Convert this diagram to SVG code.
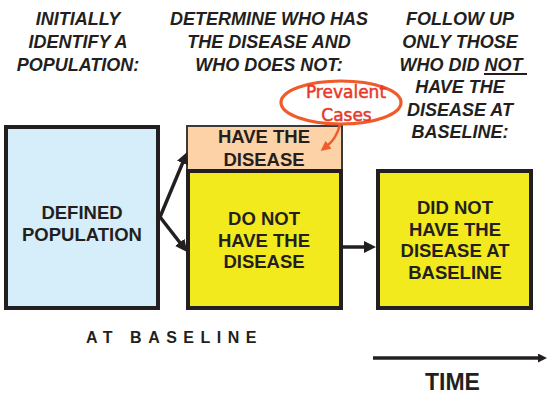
<svg xmlns="http://www.w3.org/2000/svg" width="547" height="394" viewBox="0 0 547 394">
  <defs>
    <style>
      .hdr { font-family: "Liberation Sans", Arial, sans-serif; font-size: 18px; font-weight: bold; font-style: italic; fill: #231F20; text-anchor: middle; }
      .lbl { font-family: "Liberation Sans", Arial, sans-serif; font-size: 18.5px; font-weight: bold; fill: #231F20; text-anchor: middle; }
      .box { stroke: #231F20; stroke-width: 4; }
      .conn { stroke: #231F20; stroke-width: 3.5; fill: none; }
      .note { font-family: "DejaVu Sans", "Comic Sans MS", sans-serif; font-size: 17px; fill: #E8392A; stroke: #E8392A; stroke-width: 0.5; text-anchor: middle; }
    </style>
    <marker id="ah" markerUnits="userSpaceOnUse" markerWidth="12" markerHeight="12" refX="3" refY="6" orient="auto">
      <path d="M0,0 L12,6 L0,12 z" fill="#231F20"/>
    </marker>
    <marker id="ahs" markerUnits="userSpaceOnUse" markerWidth="9" markerHeight="9" refX="2" refY="4.5" orient="auto">
      <path d="M0,0 L9,4.5 L0,9 z" fill="#231F20"/>
    </marker>
    <marker id="aho" markerUnits="userSpaceOnUse" markerWidth="10" markerHeight="10" refX="2" refY="5" orient="auto">
      <path d="M0,0 L10,5 L0,10 z" fill="#F15A29"/>
    </marker>
  </defs>

  <g id="headers">
    <text class="hdr" x="78" y="25">INITIALLY</text>
    <text class="hdr" x="78" y="48">IDENTIFY A</text>
    <text class="hdr" x="78" y="70.5">POPULATION:</text>
    <text class="hdr" x="269" y="25">DETERMINE WHO HAS</text>
    <text class="hdr" x="269" y="48">THE DISEASE AND</text>
    <text class="hdr" x="269" y="70.5">WHO DOES NOT:</text>
    <text class="hdr" x="460" y="25">FOLLOW UP</text>
    <text class="hdr" x="460" y="48">ONLY THOSE</text>
    <text class="hdr" x="461" y="70.5">WHO DID NOT</text>
    <line x1="484" y1="74" x2="527" y2="74" stroke="#231F20" stroke-width="1.8"/>
    <text class="hdr" x="460" y="93">HAVE THE</text>
    <text class="hdr" x="460" y="115.5">DISEASE AT</text>
    <text class="hdr" x="460" y="138">BASELINE:</text>
  </g>

  <g id="defined-population">
    <rect class="box" x="6" y="127" width="152" height="181" fill="#D6EEF9"/>
    <text class="lbl" x="82" y="219">DEFINED</text>
    <text class="lbl" x="82" y="241">POPULATION</text>
  </g>

  <g id="have-disease">
    <rect x="187" y="126" width="155" height="44" fill="#FDD2A7" stroke="#3A3A3A" stroke-width="2"/>
    <text class="lbl" x="264" y="143">HAVE THE</text>
    <text class="lbl" x="264" y="166">DISEASE</text>
  </g>

  <g id="do-not-have">
    <rect class="box" x="188" y="171" width="153" height="137" fill="#F3EA1E"/>
    <text class="lbl" x="264" y="225">DO NOT</text>
    <text class="lbl" x="264" y="246.5">HAVE THE</text>
    <text class="lbl" x="264" y="268">DISEASE</text>
  </g>

  <g id="did-not-have">
    <rect class="box" x="378" y="171" width="153" height="137" fill="#F3EA1E"/>
    <text class="lbl" x="455" y="214">DID NOT</text>
    <text class="lbl" x="455" y="235.5">HAVE THE</text>
    <text class="lbl" x="455" y="257">DISEASE AT</text>
    <text class="lbl" x="455" y="278.5">BASELINE</text>
  </g>

  <g id="prevalent-cases">
    <ellipse cx="341" cy="102.5" rx="60" ry="21.5" fill="none" stroke="#F15A29" stroke-width="3.2"/>
    <text class="note" x="346" y="98">Prevalent</text>
    <text class="note" x="346.5" y="121">Cases</text>
  </g>

  <g id="connectors">
    <line class="conn" x1="160" y1="217" x2="183.7" y2="160.4" marker-end="url(#ah)"/>
    <line class="conn" x1="160" y1="217" x2="181.6" y2="244.8" marker-end="url(#ah)"/>
    <line class="conn" x1="343" y1="247" x2="367" y2="247" marker-end="url(#ah)"/>
    <path d="M340,125 Q336,139 327,146" fill="none" stroke="#F15A29" stroke-width="2.5" marker-end="url(#aho)"/>
  </g>

  <g id="timeline">
    <text x="86" y="343" font-family="Liberation Sans, Arial, sans-serif" font-size="16" font-weight="bold" fill="#231F20" letter-spacing="6.5">AT BASELINE</text>
    <line class="conn" x1="373" y1="358" x2="540" y2="358" stroke-width="4" marker-end="url(#ahs)"/>
    <text x="452.5" y="390" font-family="Liberation Sans, Arial, sans-serif" font-size="23" font-weight="bold" fill="#231F20" text-anchor="middle">TIME</text>
  </g>
</svg>
